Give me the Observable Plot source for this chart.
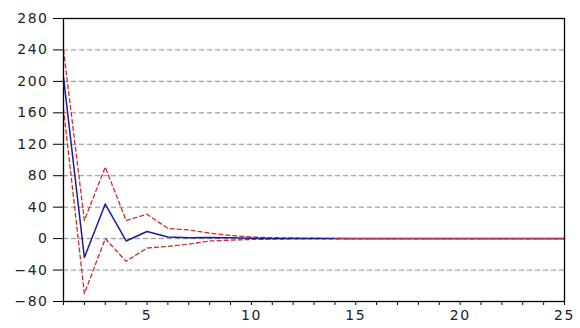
<!DOCTYPE html>
<html>
<head>
<meta charset="utf-8">
<script src="https://cdn.jsdelivr.net/npm/d3@7"></script>
<script src="https://cdn.jsdelivr.net/npm/@observablehq/plot@0.6"></script>
<style>
  body { margin: 0; background: #fff; }
  #chart svg text { letter-spacing: 1.5px; }
</style>
</head>
<body>
<div id="chart"></div>
<script>
const periods = d3.range(1, 26);
const response = [205, -24, 44, -3, 9, 2, 1, 1.5, 1, 0.5, 0.2, 0, 0, 0, 0, 0, 0, 0, 0, 0, 0, 0, 0, 0, 0];
const upper    = [240, 23, 91, 23, 31, 13, 11, 7, 4, 2, 1.2, 0.8, 0.5, 0.3, 0, 0, 0, 0, 0, 0, 0, 0, 0, 0, 0];
const lower    = [165, -70, 0, -29, -12, -10, -7, -3, -2, -1, -0.7, -0.4, -0.3, -0.2, 0, 0, 0, 0, 0, 0, 0, 0, 0, 0, 0];
const yTicks = [-80, -40, 0, 40, 80, 120, 160, 200, 240, 280];
const gridLines = [-40, 0, 40, 80, 120, 160, 200, 240];
const xLabels = [5, 10, 15, 20, 25];

const rows = periods.map((p, i) => ({p, r: response[i], u: upper[i], l: lower[i]}));

const chart = Plot.plot({
  width: 580,
  height: 328,
  marginLeft: 63,
  marginRight: 16,
  marginTop: 18,
  marginBottom: 27,
  style: {fontFamily: "DejaVu Sans", fontSize: "14px", color: "#222", background: "#fff"},
  x: {domain: [1, 25]},
  y: {domain: [-80, 280]},
  marks: [
    Plot.ruleY(gridLines, {stroke: "#8a8a8a", strokeWidth: 1, strokeDasharray: "5,3"}),
    Plot.line(rows, {x: "p", y: "u", stroke: "#c8302c", strokeWidth: 1.3, strokeDasharray: "4,3"}),
    Plot.line(rows, {x: "p", y: "l", stroke: "#c8302c", strokeWidth: 1.3, strokeDasharray: "4,3"}),
    Plot.line(rows, {x: "p", y: "r", stroke: "#1c1c96", strokeWidth: 1.5}),
    Plot.line(rows.filter(d => d.p >= 14), {x: "p", y: d => 0, stroke: "#b03050", strokeWidth: 1.3}),
    Plot.axisY(yTicks, {tickSize: 10, tickPadding: 5, stroke: "black", label: null}),
    Plot.axisX(periods, {tickSize: 4, tickPadding: 5, stroke: "black", label: null,
      tickFormat: d => xLabels.includes(d) ? String(d) : ""}),
    Plot.frame({stroke: "black", strokeWidth: 1.3})
  ]
});
document.getElementById("chart").appendChild(chart);
</script>
</body>
</html>
